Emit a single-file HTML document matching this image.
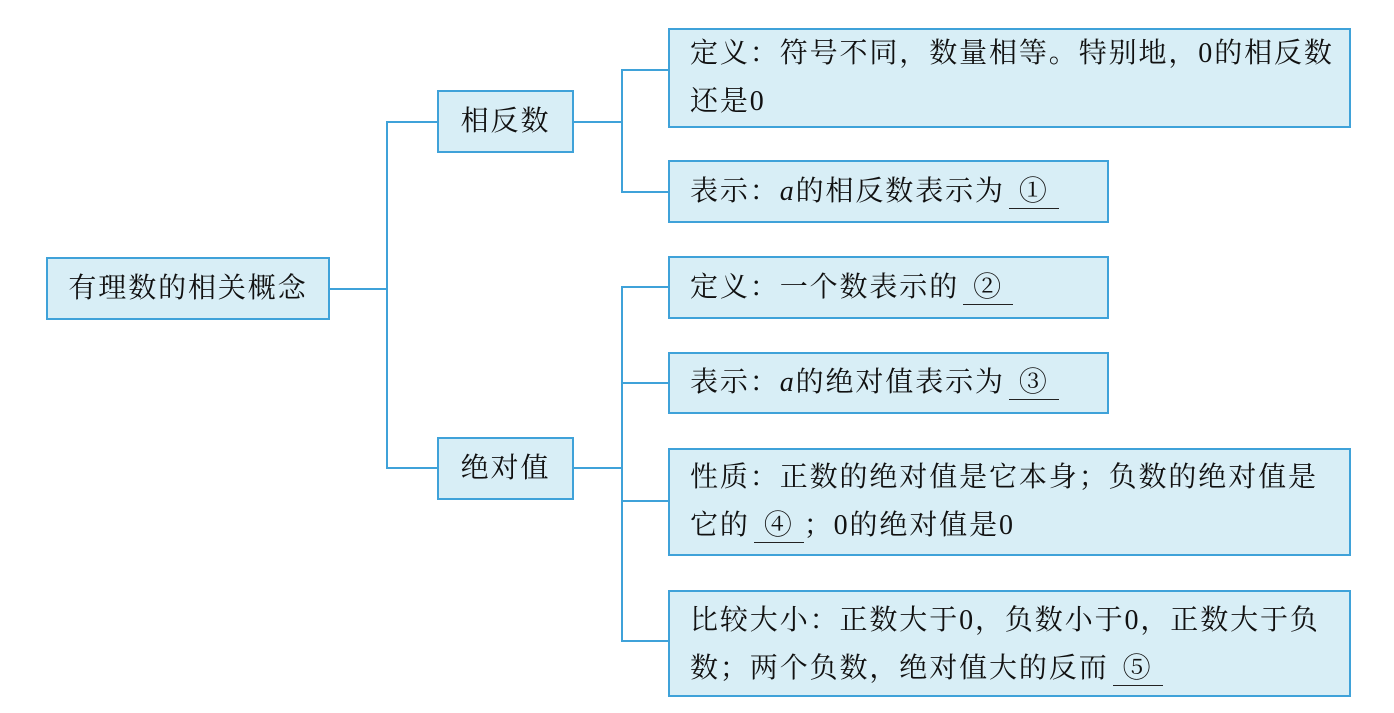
<!DOCTYPE html>
<html><head><meta charset="utf-8"><style>
body{margin:0;width:1394px;height:713px;background:#fff;position:relative;overflow:hidden;font-family:"Liberation Serif","Noto Serif CJK SC","Noto Sans CJK SC",serif;color:#111}
.b{position:absolute;box-sizing:border-box;border:2px solid #3fa2d9;background:#d8eef6;font-size:28px;letter-spacing:1.9px;line-height:48px;padding:0 0 0 20px;white-space:nowrap}
.c{text-align:center;padding:0}
.l{position:absolute;background:#3fa2d9}
u{text-decoration:none;border-bottom:1.5px solid #222;display:inline-block;line-height:32px;padding:0 10px;margin-left:4px}
i{font-style:italic}
</style></head><body>
<div class="b c" style="left:46px;top:257px;width:284px;height:63px;line-height:59px">有理数的相关概念</div>
<div class="b c" style="left:437px;top:90px;width:137px;height:63px;line-height:59px">相反数</div>
<div class="b c" style="left:437px;top:437px;width:137px;height:63px;line-height:59px">绝对值</div>
<div class="b" style="left:668px;top:28px;width:683px;height:100px;padding-top:0px">定义：符号不同，数量相等。特别地，0的相反数<br>还是0</div>
<div class="b" style="left:668px;top:160px;width:441px;height:63px;line-height:59px">表示：<i>a</i>的相反数表示为<u>①</u></div>
<div class="b" style="left:668px;top:256px;width:441px;height:63px;line-height:59px">定义：一个数表示的<u>②</u></div>
<div class="b" style="left:668px;top:352px;width:441px;height:62px;line-height:58px">表示：<i>a</i>的绝对值表示为<u>③</u></div>
<div class="b" style="left:668px;top:448px;width:683px;height:108px;padding-top:4px">性质：正数的绝对值是它本身；负数的绝对值是<br>它的<u>④</u>；0的绝对值是0</div>
<div class="b" style="left:668px;top:590px;width:683px;height:107px;padding-top:5px">比较大小：正数大于0，负数小于0，正数大于负<br>数；两个负数，绝对值大的反而<u>⑤</u></div>
<div class="l" style="left:330px;top:288px;width:57px;height:2px"></div>
<div class="l" style="left:386px;top:121px;width:2px;height:348px"></div>
<div class="l" style="left:386px;top:121px;width:51px;height:2px"></div>
<div class="l" style="left:386px;top:467px;width:51px;height:2px"></div>
<div class="l" style="left:574px;top:121px;width:48px;height:2px"></div>
<div class="l" style="left:621px;top:69px;width:2px;height:124px"></div>
<div class="l" style="left:621px;top:69px;width:47px;height:2px"></div>
<div class="l" style="left:621px;top:191px;width:47px;height:2px"></div>
<div class="l" style="left:574px;top:467px;width:48px;height:2px"></div>
<div class="l" style="left:621px;top:286px;width:2px;height:356px"></div>
<div class="l" style="left:621px;top:286px;width:47px;height:2px"></div>
<div class="l" style="left:621px;top:382px;width:47px;height:2px"></div>
<div class="l" style="left:621px;top:500px;width:47px;height:2px"></div>
<div class="l" style="left:621px;top:640px;width:47px;height:2px"></div>
</body></html>
